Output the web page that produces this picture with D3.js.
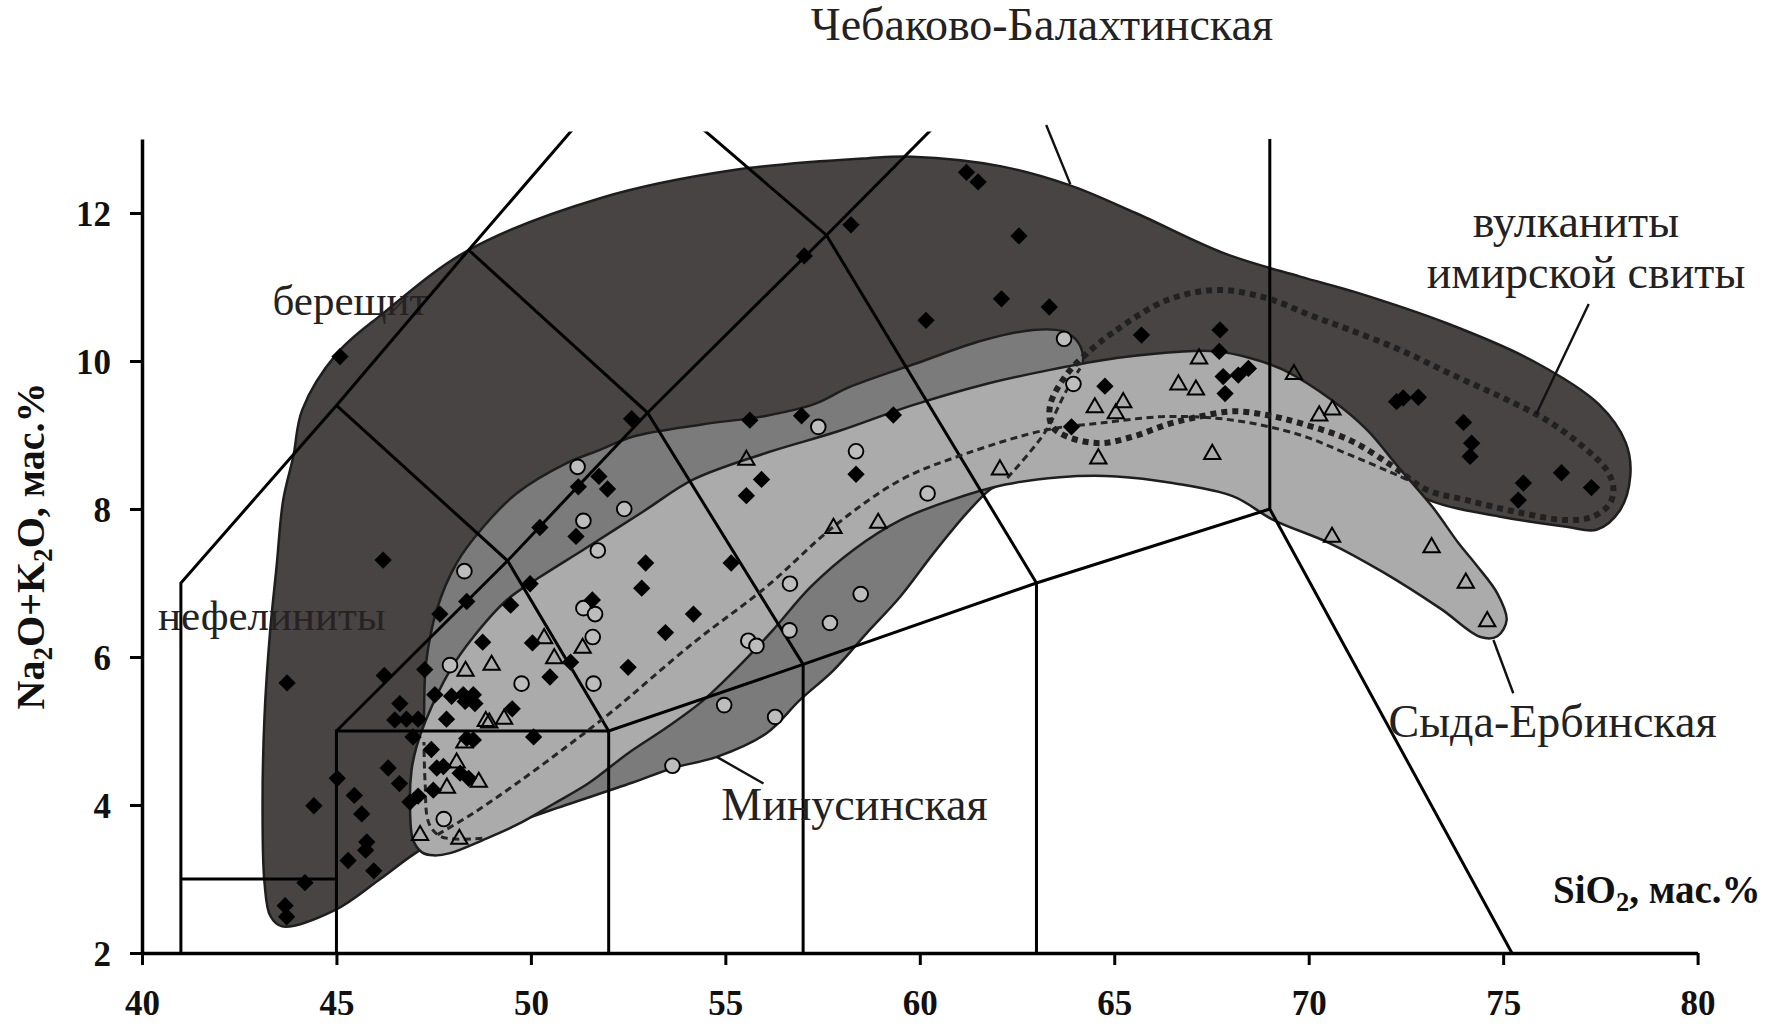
<!DOCTYPE html>
<html>
<head>
<meta charset="utf-8">
<script src="https://cdn.jsdelivr.net/npm/d3@7"></script>
<style>
  html, body { margin: 0; padding: 0; background: #fff; }
  svg { display: block; }
</style>
</head>
<body>
<svg id="chart" width="1779" height="1028"></svg>
<script>
// ---------- axes ----------
const xTicks = [40, 45, 50, 55, 60, 65, 70, 75, 80];
const yTicks = [2, 4, 6, 8, 10, 12];

// ---------- TAS classification boundaries (SiO2, Na2O+K2O) ----------
const tasLines = [
  [[41, 2], [41, 7], [45, 9.4], [48.4, 11.5], [52.5, 14]],
  [[41, 3], [45, 3]],
  [[45, 2], [45, 5], [52, 5], [57, 5.9], [63, 7], [69, 8]],
  [[45, 5], [49.4, 7.3], [53, 9.3], [57.6, 11.7], [61, 13.5]],
  [[45, 9.4], [49.4, 7.3], [52, 5]],
  [[48.4, 11.5], [53, 9.3], [57, 5.9]],
  [[52.5, 14], [57.6, 11.7], [63, 7]],
  [[52, 2], [52, 5]],
  [[57, 2], [57, 5.9]],
  [[63, 2], [63, 7]],
  [[69, 13], [69, 8], [77.3, 0]]
];

// ---------- composition fields ----------
const chebField = [
  [43.6, 2.36], [44.96, 2.58], [46.1, 2.99], [47.03, 3.35], [48.5, 3.8], [50.5, 4.6], [53, 5.6],
  [56, 6.9], [59, 8.0], [62, 8.8], [65, 9.1], [68, 9.2], [70, 9.0], [71.5, 8.65], [73.1, 8.12],
  [74.9, 7.9], [76.63, 7.76], [77.4, 7.72], [78.0, 7.98], [78.27, 8.45], [78.15, 8.9], [77.45, 9.42],
  [75.77, 10.0], [73.6, 10.5], [71.2, 10.93], [69.78, 11.14], [67.85, 11.45], [65.55, 12.0],
  [63.83, 12.38], [62.1, 12.63], [59.8, 12.76], [58.67, 12.74], [55.22, 12.58], [51.78, 12.2],
  [48.4, 11.5], [46.19, 10.64], [45.01, 10.1], [44.12, 9.34], [43.89, 8.71], [43.63, 8.12],
  [43.46, 7.22], [43.29, 6.32], [43.15, 5.2], [43.1, 4.0], [43.15, 2.95], [43.3, 2.5]
];

const minusField = [
  [47.25, 5.2], [47.3, 5.9], [47.58, 6.64], [48.09, 7.27], [48.78, 7.76], [49.63, 8.21],
  [50.92, 8.62], [51.78, 8.8], [52.63, 8.98], [54.36, 9.14], [56.06, 9.26], [57.3, 9.42],
  [58.2, 9.65], [59.92, 9.97], [61.63, 10.28], [62.92, 10.42], [63.69, 10.4], [64.03, 10.28],
  [64.2, 10.06], [64.1, 9.8], [63.5, 9.2], [62.8, 8.7], [62.15, 8.36], [61.8, 8.26], [61.2, 7.94],
  [60.35, 7.4], [59.49, 6.81], [58.63, 6.32], [57.78, 5.82], [56.92, 5.42], [56.06, 4.97],
  [54.78, 4.65], [53.66, 4.5], [52.6, 4.3], [50.9, 4.0], [49.5, 3.75], [48.3, 3.55], [47.5, 3.7],
  [47.2, 4.4]
];

const sydaField = [
  [47.49, 3.32], [47.92, 3.35], [48.78, 3.53], [49.63, 3.73], [50.6, 4.02], [51.5, 4.3],
  [52.5, 4.7], [53.5, 5.05], [54.4, 5.4], [55.3, 5.85], [56.2, 6.35], [57.2, 6.95], [58.3, 7.45],
  [59.5, 7.85], [60.8, 8.12], [62.2, 8.33], [63.6, 8.43], [65.06, 8.44], [66.5, 8.35],
  [68.06, 8.17], [69.1, 7.85], [70.53, 7.54], [71.9, 7.15], [73.4, 6.65], [74.42, 6.27],
  [74.85, 6.28], [75.09, 6.5], [74.85, 6.86], [74.3, 7.25], [73.85, 7.54], [73.18, 8.03],
  [72.3, 8.57], [71.5, 9.07], [70.6, 9.47], [69.35, 9.88], [68.49, 10.04], [67.63, 10.13],
  [66.78, 10.13], [65.06, 10.04], [63.35, 9.88], [61.63, 9.68], [59.8, 9.4], [57.9, 9.05],
  [56.06, 8.76], [54.18, 8.4], [52.9, 7.97], [51.35, 7.45], [50.23, 7.08], [49.38, 6.77],
  [48.52, 6.27], [47.92, 5.82], [47.3, 5.15], [47.06, 4.79], [46.93, 4.47], [46.89, 4.02],
  [46.97, 3.53], [47.2, 3.36]
];

// volcanics of the Imir suite (dotted contour)
const imirContour = [
  [64.25, 10.08], [65.06, 10.42], [66.35, 10.82], [67.63, 10.96], [68.92, 10.85], [70.03, 10.62],
  [71.06, 10.42], [72.35, 10.15], [73.63, 9.83], [74.92, 9.52], [76.12, 9.2], [77.06, 8.84],
  [77.66, 8.53], [77.83, 8.3], [77.75, 8.08], [77.32, 7.9], [76.63, 7.85], [75.35, 7.96],
  [74.06, 8.12], [73.03, 8.26], [72.18, 8.57], [71.06, 8.93], [69.78, 9.16], [68.92, 9.27],
  [68.06, 9.32], [67.2, 9.25], [66.35, 9.14], [65.49, 8.98], [64.63, 8.89], [63.78, 8.98],
  [63.4, 9.12], [63.35, 9.4], [63.75, 9.8]
];

// thin dashed trend lines
const trendLines = [
  [[48.75, 3.55], [47.7, 3.57], [47.38, 3.75], [47.28, 4.3], [47.25, 4.85]],
  [[47.6, 3.6], [48.52, 3.89], [49.63, 4.29], [50.92, 4.79], [52.03, 5.24], [54.2, 6.2],
   [56.06, 6.95], [57.78, 7.76], [59.5, 8.39], [61.2, 8.75], [63.26, 9.07], [64.63, 9.16],
   [66.35, 9.25], [68.06, 9.2], [69.78, 9.0], [71.06, 8.73], [72.35, 8.44], [72.9, 8.3]],
  [[62.25, 8.42], [62.8, 8.75], [63.26, 9.07], [63.78, 9.61], [64.12, 9.9]]
];

// ---------- analyses ----------
const chebPoints = [
  [61.2, 12.55], [61.5, 12.42], [58.23, 11.84], [57.03, 11.42], [62.55, 11.69], [62.1, 10.84],
  [63.33, 10.73], [60.16, 10.55], [65.7, 10.35], [67.72, 10.42], [67.7, 10.13], [67.8, 9.79],
  [68.19, 9.81], [68.45, 9.9], [67.85, 9.56], [64.76, 9.66], [63.9, 9.11],
  [72.26, 9.45], [72.43, 9.5], [72.82, 9.51], [73.98, 9.17], [74.19, 8.89], [74.15, 8.71],
  [75.52, 8.35], [75.39, 8.12], [76.5, 8.49], [77.27, 8.29],
  [45.09, 10.06], [46.2, 7.31], [43.73, 5.65],
  [51.22, 8.3], [51.75, 8.44], [51.97, 8.27], [52.59, 9.22], [50.23, 7.75], [51.16, 7.63],
  [49.98, 6.99], [49.48, 6.7], [48.35, 6.75], [47.66, 6.58], [48.76, 6.2], [50.04, 6.19],
  [55.63, 9.2], [56.96, 9.26], [59.32, 9.27], [55.93, 8.4], [55.54, 8.18], [58.36, 8.47],
  [52.95, 7.27], [52.85, 6.93], [51.58, 6.77], [54.18, 6.58], [53.46, 6.33], [55.15, 7.27],
  [50.49, 5.73], [51.02, 5.93], [52.5, 5.86], [49.52, 5.3], [50.07, 4.92],
  [46.23, 5.75], [47.27, 5.83], [47.83, 5.16], [47.53, 5.49], [47.96, 5.47], [48.26, 5.49],
  [48.52, 5.49], [48.31, 5.4], [48.56, 5.37], [46.63, 5.37], [46.5, 5.15], [46.8, 5.16],
  [47.1, 5.16], [46.97, 4.92], [47.44, 4.75], [48.35, 4.9], [48.52, 4.88], [46.33, 4.5],
  [46.62, 4.29], [47.58, 4.5], [47.75, 4.52], [48.18, 4.43], [48.4, 4.36], [47.49, 4.2],
  [47.1, 4.12], [46.89, 4.04],
  [45.02, 4.36], [45.46, 4.13], [45.65, 3.88], [45.78, 3.5], [45.75, 3.39], [45.3, 3.25],
  [45.96, 3.11], [44.42, 3.99], [44.19, 2.95], [43.68, 2.64], [43.72, 2.49]
];

const minusPoints = [
  [51.2, 8.57], [52.4, 8.0], [51.35, 7.84], [51.72, 7.44], [57.39, 9.11], [58.36, 8.78],
  [60.2, 8.21], [56.66, 6.99], [58.48, 6.85], [57.69, 6.46], [56.65, 6.36], [55.59, 6.22],
  [55.8, 6.15], [51.35, 6.66], [51.65, 6.58], [51.59, 6.27], [51.61, 5.64], [49.76, 5.64],
  [54.97, 5.35], [56.28, 5.19], [53.64, 4.53], [48.29, 7.16], [47.92, 5.89], [47.76, 3.81],
  [63.71, 10.3], [63.95, 9.69]
];

const sydaPoints = [
  [50.34, 6.25], [50.6, 5.98], [51.33, 6.12], [48.32, 5.81], [48.99, 5.89], [48.84, 5.13],
  [48.93, 5.11], [49.31, 5.16], [48.29, 4.84], [48.09, 4.57], [47.84, 4.23], [48.66, 4.31],
  [47.15, 3.59], [48.16, 3.54],
  [55.54, 8.66], [57.78, 7.74], [58.93, 7.81],
  [62.06, 8.53], [64.5, 9.37], [65.23, 9.44], [65.04, 9.29], [64.59, 8.68], [66.65, 9.68],
  [67.1, 9.61], [67.18, 10.03], [67.52, 8.74], [69.62, 9.82], [70.27, 9.26], [70.61, 9.34],
  [70.6, 7.62], [73.16, 7.48], [74.04, 7.0], [74.59, 6.48]
];

// ---------- text ----------
const fieldNames = ["нефелиниты", "берещит"];
const fieldNameAt = [[43.34, 6.36], [45.36, 10.62]];
const groupNames = ["Чебаково-Балахтинская", "вулканиты", "имирской свиты", "Сыда-Ербинская", "Минусинская"];
const groupNameAt = [[63.14, 14.34], [76.87, 11.68], [77.13, 10.99], [76.27, 4.92], [58.32, 3.8]];
const leaders = [
  [[63.25, 13.19], [63.87, 12.39]],
  [[77.2, 10.77], [75.85, 9.28]],
  [[74.75, 6.23], [75.26, 5.51]],
  [[54.78, 4.65], [55.98, 4.29]]
];

// ---------- drawing ----------
const svg = d3.select("#chart");
const x = d3.scaleLinear().domain([40, 80]).range([142, 1697.6]);
const y = d3.scaleLinear().domain([2, 13]).range([953, 139]);
const serif = "'Liberation Serif', 'Times New Roman', serif";

const P = d => [x(d[0]), y(d[1])];
const closed = d3.line().x(d => x(d[0])).y(d => y(d[1])).curve(d3.curveCatmullRomClosed.alpha(0.5));
const open = d3.line().x(d => x(d[0])).y(d => y(d[1])).curve(d3.curveCatmullRom.alpha(0.5));
const straight = d3.line().x(d => x(d[0])).y(d => y(d[1]));

svg.append("defs").append("clipPath").attr("id", "plotClip")
  .append("rect")
  .attr("x", x(40)).attr("y", y(13.1))
  .attr("width", x(80) - x(40)).attr("height", y(2) - y(13.1));

// rock-name labels sit beneath the translucent field
svg.append("g").selectAll("text").data(fieldNames).join("text")
  .attr("x", (d, i) => x(fieldNameAt[i][0]))
  .attr("y", (d, i) => y(fieldNameAt[i][1]))
  .attr("text-anchor", "middle")
  .attr("font-family", serif).attr("font-size", 43).attr("fill", "#222")
  .text(d => d);

// fields
svg.append("path").attr("d", closed(chebField))
  .attr("fill", "rgb(40,35,35)").attr("fill-opacity", 0.85)
  .attr("stroke", "#1e1e1e").attr("stroke-width", 2.5);
svg.append("path").attr("d", closed(minusField))
  .attr("fill", "#7c7b7b")
  .attr("stroke", "#1e1e1e").attr("stroke-width", 2.5);
svg.append("path").attr("d", closed(sydaField))
  .attr("fill", "#ababab")
  .attr("stroke", "#1e1e1e").attr("stroke-width", 2.5);

// classification grid
svg.append("g").attr("clip-path", "url(#plotClip)")
  .selectAll("path").data(tasLines).join("path")
  .attr("d", straight)
  .attr("fill", "none").attr("stroke", "#000").attr("stroke-width", 3)
  .attr("stroke-linejoin", "miter");

// dashed trends and dotted contour
svg.append("g").selectAll("path").data(trendLines).join("path")
  .attr("d", open)
  .attr("fill", "none").attr("stroke", "#262626").attr("stroke-width", 3)
  .attr("stroke-dasharray", "7,4.5");
svg.append("path").attr("d", closed(imirContour))
  .attr("fill", "none").attr("stroke", "#222020").attr("stroke-width", 6)
  .attr("stroke-dasharray", "6,5");

// analyses
const diamond = d3.symbol().type(d3.symbolSquare).size(150);
const circle = d3.symbol().type(d3.symbolCircle).size(170);
const triangle = d3.symbol().type(d3.symbolTriangle).size(115);

svg.append("g").selectAll("path").data(minusPoints).join("path")
  .attr("transform", d => `translate(${P(d)})`)
  .attr("d", circle)
  .attr("fill", "#bdbdbd").attr("stroke", "#000").attr("stroke-width", 1.9);
svg.append("g").selectAll("path").data(sydaPoints).join("path")
  .attr("transform", d => `translate(${P(d)})`)
  .attr("d", triangle)
  .attr("fill", "none").attr("stroke", "#000").attr("stroke-width", 2);
svg.append("g").selectAll("path").data(chebPoints).join("path")
  .attr("transform", d => `translate(${P(d)}) rotate(45)`)
  .attr("d", diamond)
  .attr("fill", "#000");

// group labels and leaders
svg.append("g").selectAll("line").data(leaders).join("line")
  .attr("x1", d => x(d[0][0])).attr("y1", d => y(d[0][1]))
  .attr("x2", d => x(d[1][0])).attr("y2", d => y(d[1][1]))
  .attr("stroke", "#111").attr("stroke-width", 2.4);
svg.append("g").selectAll("text").data(groupNames).join("text")
  .attr("x", (d, i) => x(groupNameAt[i][0]))
  .attr("y", (d, i) => y(groupNameAt[i][1]))
  .attr("text-anchor", "middle")
  .attr("font-family", serif).attr("font-size", 46).attr("fill", "#222")
  .text(d => d);

// axes
const styleAxis = g => {
  g.select(".domain").attr("stroke", "#000").attr("stroke-width", 3.5);
  g.selectAll(".tick line").attr("stroke", "#000").attr("stroke-width", 3);
  g.selectAll(".tick text")
    .attr("font-family", serif).attr("font-weight", "bold")
    .attr("font-size", 35).attr("fill", "#111");
};
svg.append("g").attr("transform", `translate(0,${y(2)})`)
  .call(d3.axisBottom(x).tickValues(xTicks).tickSize(12).tickSizeOuter(0).tickFormat(d3.format("d")))
  .call(styleAxis)
  .call(g => g.selectAll(".tick text").attr("y", 62).attr("dy", 0));
svg.append("g").attr("transform", `translate(${x(40)},0)`)
  .call(d3.axisLeft(y).tickValues(yTicks).tickSize(12).tickSizeOuter(0).tickFormat(d3.format("d")))
  .call(styleAxis)
  .call(g => g.selectAll(".tick text").attr("x", -31).attr("dy", "0.35em"));

// axis titles with subscripts
const title = (sel, parts, size) => {
  let lowered = false;
  parts.forEach(([t, sub]) => {
    const span = sel.append("tspan").text(t);
    if (sub) { span.attr("font-size", size * 0.68).attr("dy", 8); lowered = true; }
    else if (lowered) { span.attr("dy", -8); lowered = false; }
  });
};
const yTitle = svg.append("text")
  .attr("transform", `translate(44,${y(7.5)}) rotate(-90)`)
  .attr("text-anchor", "middle")
  .attr("font-family", serif).attr("font-weight", "bold").attr("font-size", 40).attr("fill", "#111");
title(yTitle, [["Na"], ["2", true], ["O+K"], ["2", true], ["O, мас.%"]], 40);

const xTitle = svg.append("text")
  .attr("x", 1553).attr("y", 903)
  .attr("font-family", serif).attr("font-weight", "bold").attr("font-size", 39).attr("fill", "#111");
title(xTitle, [["SiO"], ["2", true], [", мас.%"]], 39);
</script>
</body>
</html>
